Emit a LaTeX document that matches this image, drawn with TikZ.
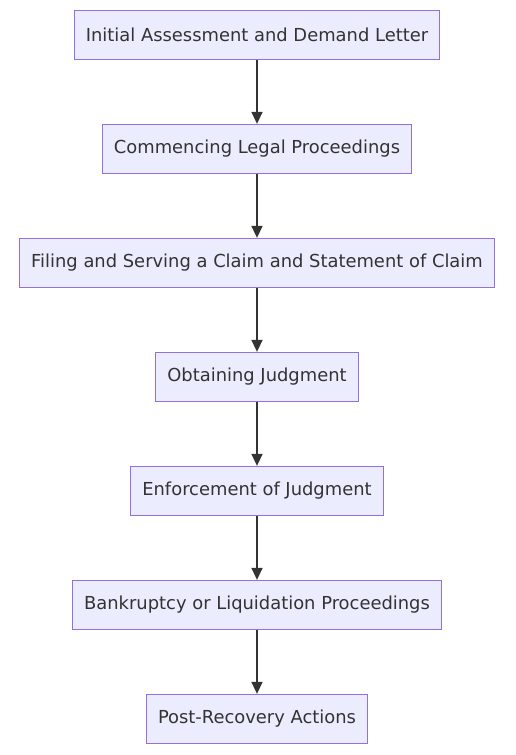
\documentclass[tikz,border=0pt]{standalone}
\usepackage{fontspec}
\setmainfont{DejaVu Sans}
\usepackage{xcolor}
\usepackage{tikz}
\usetikzlibrary{arrows.meta, positioning}
\definecolor{stepfill}{HTML}{ECECFF}
\definecolor{stepline}{HTML}{9370DB}
\definecolor{flowgray}{HTML}{333333}

\begin{document}
\begin{tikzpicture}[
        x=1pt, y=1pt,
        stepbox/.style={draw=stepline, fill=stepfill, line width=0.8pt, minimum height=49.5pt,
            inner xsep=11.5pt, text=flowgray, font=\fontsize{17.9}{20}\selectfont},
        flow/.style={-{Triangle[length=12pt, width=11pt]}, line width=1.6pt, draw=flowgray}
    ]
        \useasboundingbox (0, 0) rectangle (515, -755);

        % Steps
        \node[stepbox] (assess) at (257, -35) {Initial Assessment and Demand Letter};
        \node[stepbox, below=63.7pt of assess] (commence) {Commencing Legal Proceedings};
        \node[stepbox, below=63.7pt of commence] (filing) {Filing and Serving a Claim and Statement of Claim};
        \node[stepbox, below=63.7pt of filing] (judgment) {Obtaining Judgment};
        \node[stepbox, below=63.7pt of judgment] (enforce) {Enforcement of Judgment};
        \node[stepbox, below=63.7pt of enforce] (bankrupt) {Bankruptcy or Liquidation Proceedings};
        \node[stepbox, below=63.7pt of bankrupt] (post) {Post-Recovery Actions};

        % Arrows
        \foreach \a/\b in {assess/commence, commence/filing, filing/judgment, judgment/enforce, enforce/bankrupt, bankrupt/post}
            \draw[flow] (\a) -- (\b);
    \end{tikzpicture}
\end{document}
